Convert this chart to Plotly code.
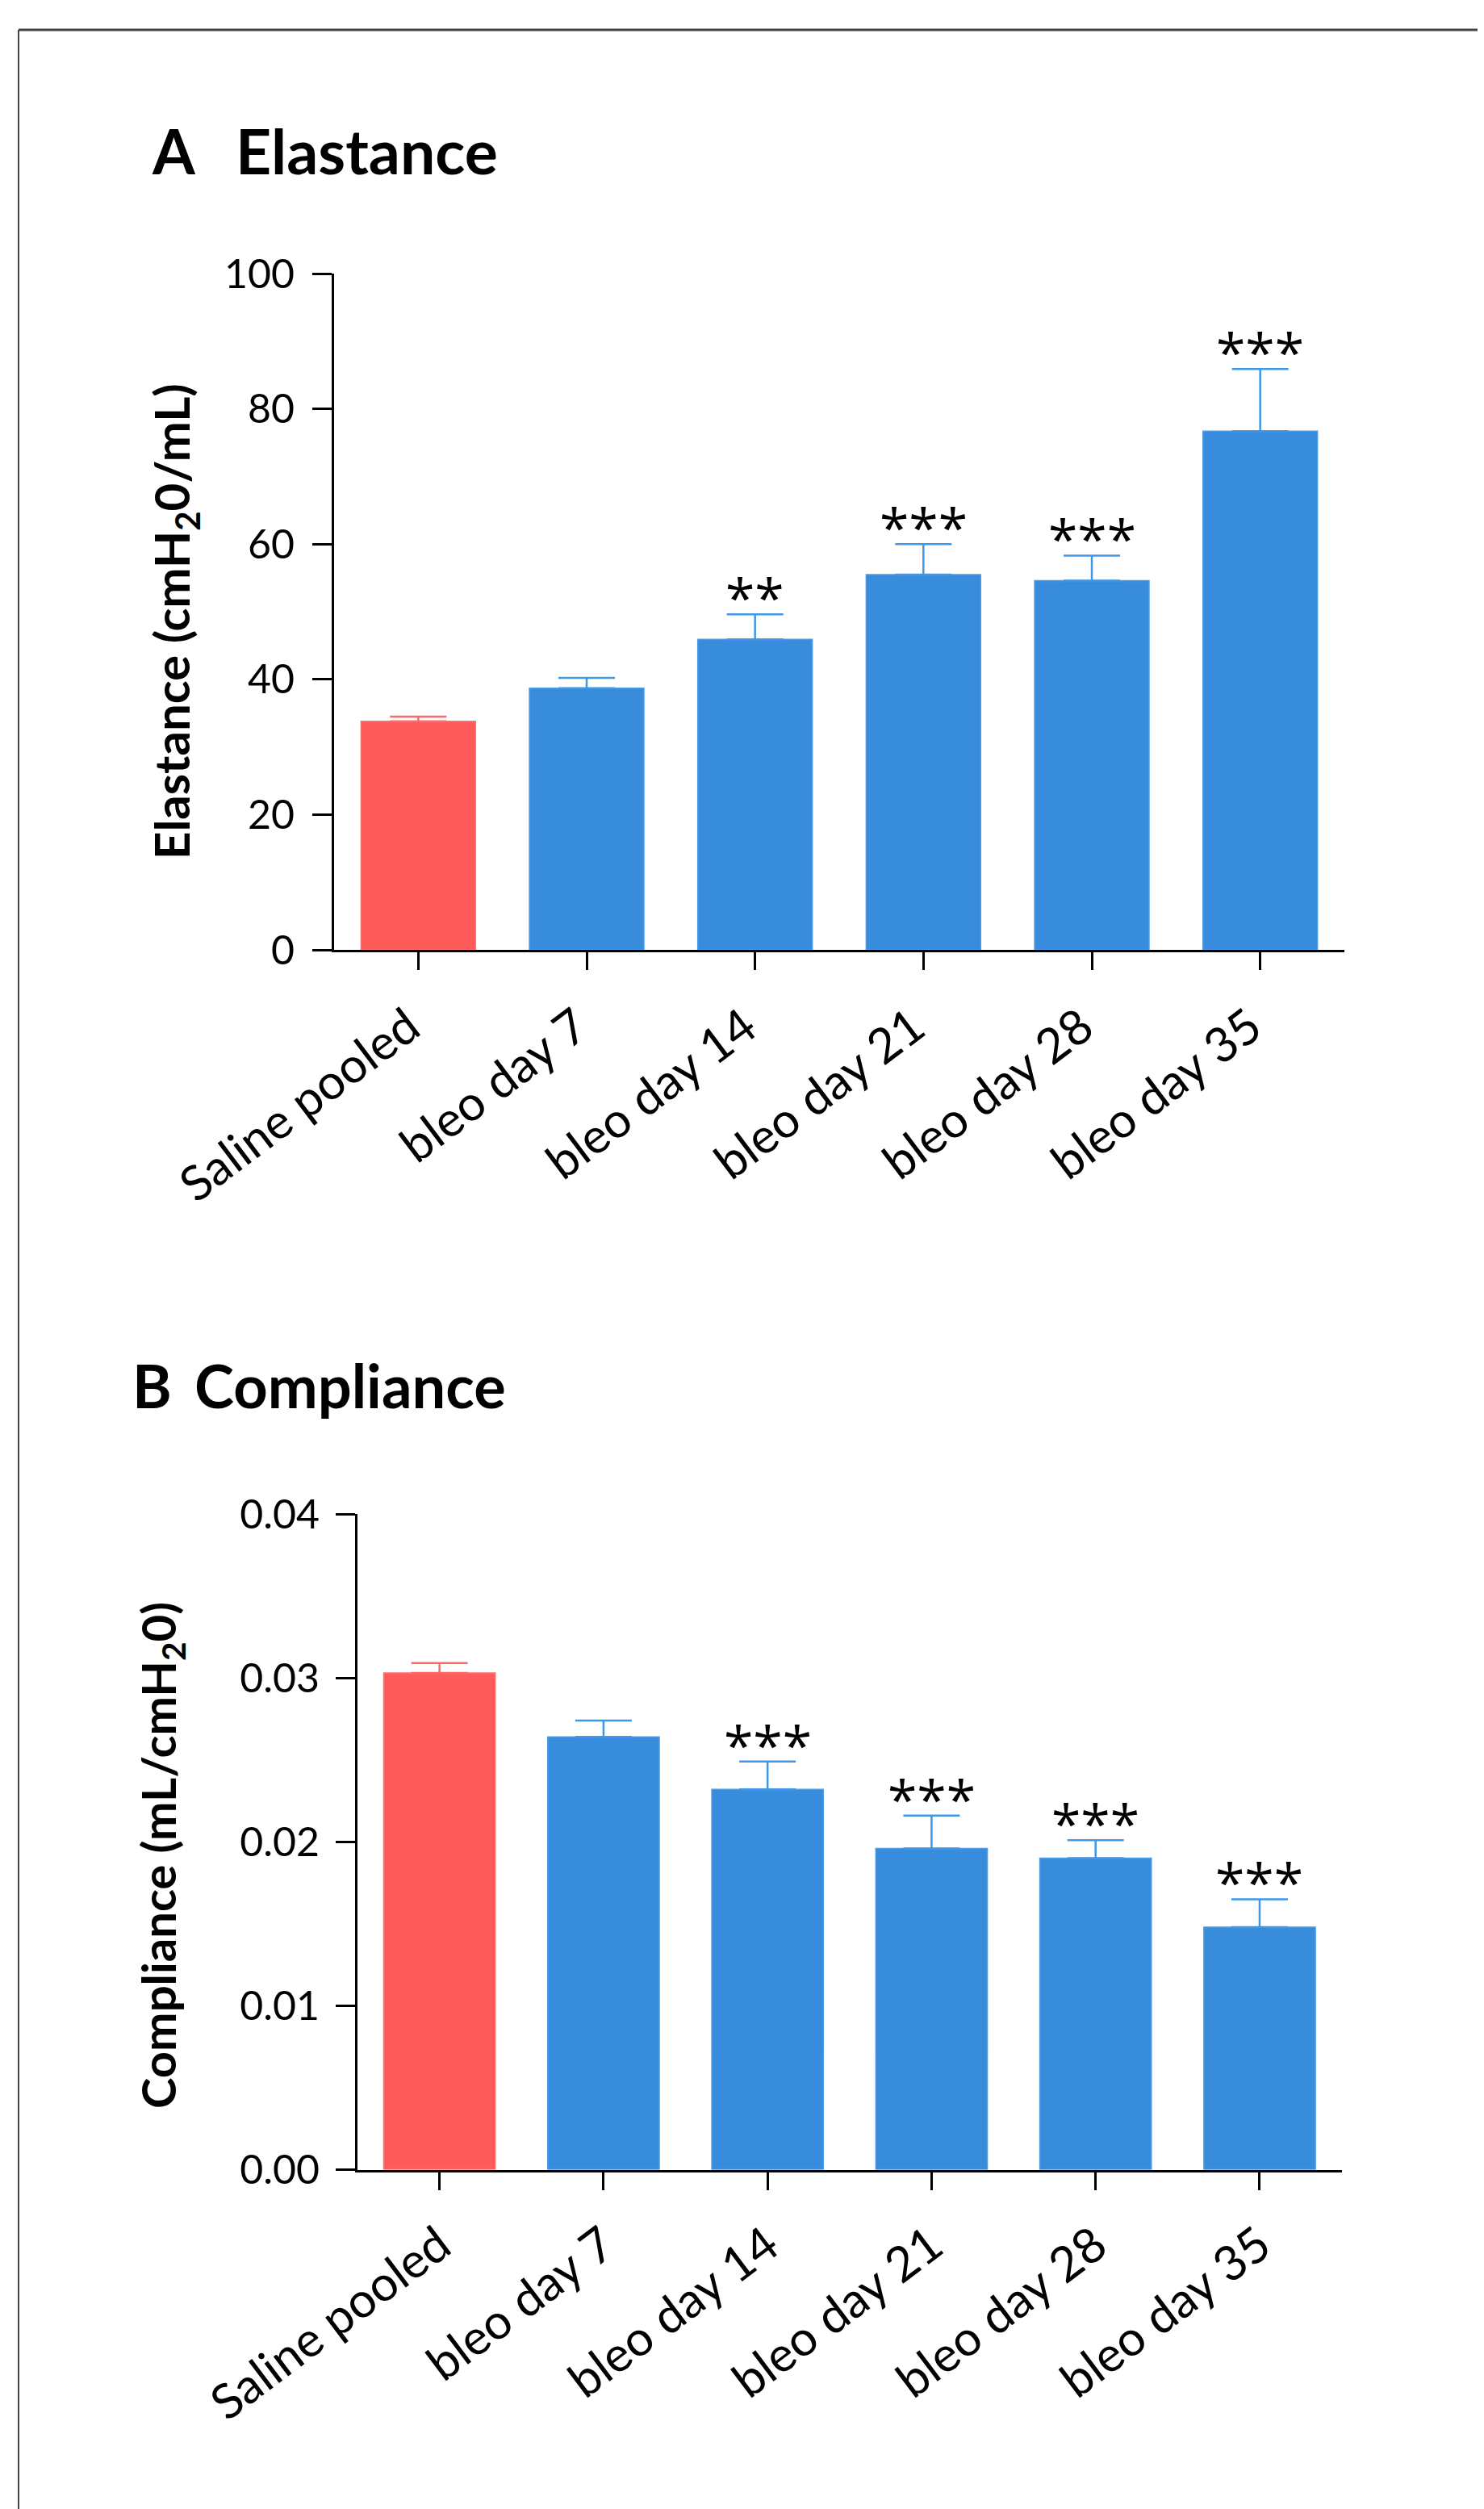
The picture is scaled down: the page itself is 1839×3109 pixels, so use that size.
import plotly.graph_objects as go

W, H = 1839, 3109
OFF = 8  # default page body margin


def px(x):
    return (x - OFF) / W


def py(y):
    return 1 - (y - OFF) / H


categories = ["Saline pooled", "bleo day 7", "bleo day 14", "bleo day 21", "bleo day 28", "bleo day 35"]

elastance_mean = [33.8, 38.7, 45.9, 55.5, 54.6, 76.7]
elastance_sem = [0.7, 1.5, 3.7, 4.5, 3.7, 9.2]
elastance_sig = ["", "", "**", "***", "***", "***"]
elastance_ticks = [0, 20, 40, 60, 80, 100]

compliance_mean = [0.0303, 0.0264, 0.0232, 0.0196, 0.0190, 0.0148]
compliance_sem = [0.0006, 0.0010, 0.0017, 0.0020, 0.0011, 0.0017]
compliance_sig = ["", "", "***", "***", "***", "***"]
compliance_ticks = [0.0, 0.01, 0.02, 0.03, 0.04]

RED = "#FF5B5B"
RED_ERR = "#FF6868"
BLUE = "#388CDC"
BLUE_ERR = "#3F97EA"
FONT = "Lato"

fig = go.Figure()


def add_panel(vals, errs, xa, ya):
    groups = [([0], RED, RED_ERR, "#FF7070"), (list(range(1, len(vals))), BLUE, BLUE_ERR, "#4A9BE8")]
    for idx, col, ecol, lcol in groups:
        fig.add_trace(go.Bar(
            x=[categories[i] for i in idx],
            y=[vals[i] for i in idx],
            width=0.68,
            marker=dict(color=col, line=dict(color=lcol, width=1.5)),
            error_y=dict(type="data", symmetric=False,
                         array=[errs[i] for i in idx],
                         arrayminus=[0] * len(idx),
                         color=ecol, thickness=2.5, width=35),
            xaxis=xa, yaxis=ya, showlegend=False, hoverinfo="skip",
        ))


add_panel(elastance_mean, elastance_sem, "x", "y")
add_panel(compliance_mean, compliance_sem, "x2", "y2")

axis_common = dict(
    showline=True, linecolor="#000", linewidth=3,
    ticks="outside", tickcolor="#000", tickwidth=3,
    showgrid=False, zeroline=False, automargin=False,
)

xA = dict(domain=[px(414), px(1666)], anchor="y", type="category",
          categoryorder="array", categoryarray=categories, range=[-0.5, 5.5],
          ticklen=22, tickangle=-37, tickfont=dict(family=FONT, size=60, color="#000"),
          ticklabelstandoff=12, ticklabelshift=-12, **axis_common)
yA = dict(domain=[py(1177), py(339)], anchor="x", range=[0, 100],
          tickvals=elastance_ticks, ticklen=24,
          tickfont=dict(family=FONT, size=50, color="#000"),
          ticklabelstandoff=12, **axis_common)
xB = dict(domain=[px(443), px(1662.6)], anchor="y2", type="category",
          categoryorder="array", categoryarray=categories, range=[-0.5, 5.5],
          ticklen=22, tickangle=-37, tickfont=dict(family=FONT, size=60, color="#000"),
          ticklabelstandoff=10, ticklabelshift=0, **axis_common)
yB = dict(domain=[py(2688.6), py(1876)], anchor="x2", range=[0, 0.04],
          tickvals=compliance_ticks, tickformat=".2f", ticklen=24,
          tickfont=dict(family=FONT, size=50, color="#000"),
          ticklabelstandoff=10, **axis_common)

annotations = []

for vals, errs, sig, xr, yr in [
    (elastance_mean, elastance_sem, elastance_sig, "x", "y"),
    (compliance_mean, compliance_sem, compliance_sig, "x2", "y2"),
]:
    for c, v, e, s in zip(categories, vals, errs, sig):
        if s:
            annotations.append(dict(
                x=c, y=v + e, xref=xr, yref=yr,
                text=s, showarrow=False,
                xanchor="center", yanchor="middle", yshift=22,
                font=dict(family="Open Sans", size=66, color="#000"),
            ))


def ptitle(txt, xpx, ypx, size=74):
    annotations.append(dict(
        x=px(xpx), y=py(ypx), xref="paper", yref="paper",
        text="<b>%s</b>" % txt, showarrow=False, xanchor="left", yanchor="middle",
        font=dict(family=FONT, size=size, color="#000"),
    ))


ptitle("A", 186, 186, 76)
ptitle("Elastance", 290, 186, 77)
ptitle("B", 162, 1716)
ptitle("Compliance", 239, 1716)

annotations.append(dict(
    x=px(216), y=py(770), xref="paper", yref="paper",
    text="<b>Elastance (cmH<sub>2</sub>0/mL)</b>", showarrow=False, textangle=-90,
    xanchor="center", yanchor="middle", font=dict(family=FONT, size=60, color="#000"),
))
annotations.append(dict(
    x=px(200), y=py(2299), xref="paper", yref="paper",
    text="<b>Compliance (mL/cmH<sub>2</sub>0)</b>", showarrow=False, textangle=-90,
    xanchor="center", yanchor="middle", font=dict(family=FONT, size=58, color="#000"),
))

shapes = [
    dict(type="line", xref="paper", yref="paper", x0=px(23), x1=px(23), y0=-0.01, y1=py(37),
         line=dict(color="#444", width=2)),
    dict(type="line", xref="paper", yref="paper", x0=px(23), x1=1.01, y0=py(37), y1=py(37),
         line=dict(color="#444", width=3)),
]

fig.update_layout(
    width=W, height=H, margin=dict(l=0, r=0, t=0, b=0, pad=0, autoexpand=False),
    paper_bgcolor="white", plot_bgcolor="white",
    barmode="overlay", font=dict(family=FONT, color="#000"),
    xaxis=xA, yaxis=yA, xaxis2=xB, yaxis2=yB,
    annotations=annotations, shapes=shapes,
)

fig.write_html("out.html")
